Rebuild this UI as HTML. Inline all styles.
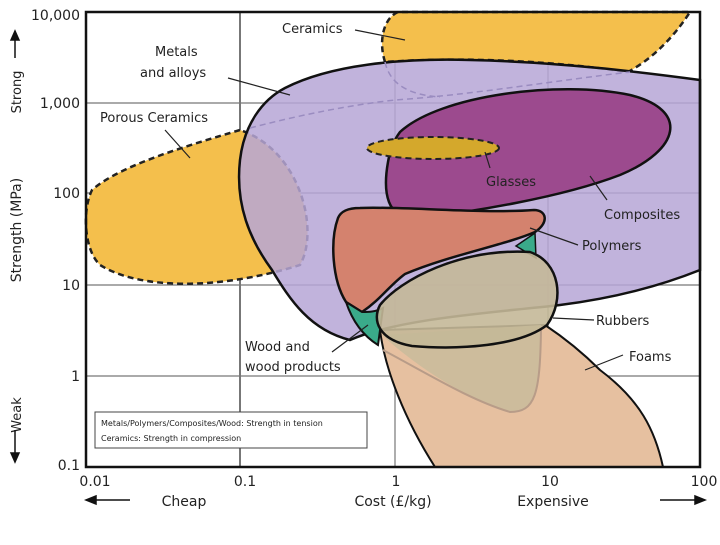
<!DOCTYPE html>
<html><head><meta charset="utf-8"><style>
body{margin:0;background:#fff;width:720px;height:540px;overflow:hidden}
text{font-family:"DejaVu Sans","Liberation Sans",sans-serif;fill:#222}
</style></head><body>
<svg width="720" height="540" viewBox="0 0 720 540">
<rect width="720" height="540" fill="#fff"/>
<g stroke="#777" stroke-width="1.2">
<line x1="86" y1="103" x2="700" y2="103"/><line x1="86" y1="193" x2="700" y2="193"/>
<line x1="86" y1="285" x2="700" y2="285"/><line x1="86" y1="376" x2="700" y2="376"/>
<line x1="240" y1="12" x2="240" y2="467" stroke-width="2"/><line x1="395" y1="12" x2="395" y2="467"/><line x1="548" y1="12" x2="548" y2="467"/>
</g>
<path d="M385,62 C378,40 384,18 398,12 L690,12 C672,40 650,60 628,72 C560,62 470,56 385,62 Z" fill="#f4bf4c" stroke="#222" stroke-width="2.5" stroke-dasharray="6,4"/>
<path d="M240,130 C190,145 120,165 92,190 C82,210 84,250 100,265 C140,290 220,290 300,265 C320,230 300,150 240,130 Z" fill="#f4bf4c" stroke="#222" stroke-width="2.5" stroke-dasharray="6,4"/>
<path d="M285,88 C330,65 400,58 470,60 C560,62 640,72 700,80 L700,270 C650,290 600,300 560,305 C500,312 400,318 350,340 C310,330 290,300 272,270 C250,240 235,205 240,160 C244,125 262,100 285,88 Z" fill="#b6a6d6" fill-opacity="0.85" stroke="#111" stroke-width="2.5"/>
<path d="M250,128 C300,115 350,105 395,100 C470,95 560,80 630,72" fill="none" stroke="#9a8cc0" stroke-width="1.5" stroke-dasharray="6,4"/>
<path d="M385,62 C390,85 410,95 440,97" fill="none" stroke="#9a8cc0" stroke-width="1.5" stroke-dasharray="6,4"/>
<path d="M400,132 C440,95 560,80 630,95 C690,110 680,150 620,175 C560,198 470,212 420,218 C385,222 383,190 388,162 C390,150 394,140 400,132 Z" fill="#9c4a8e" stroke="#111" stroke-width="2.5"/>
<ellipse cx="433" cy="148" rx="66" ry="11" fill="#d4a82c" stroke="#222" stroke-width="2" stroke-dasharray="6,4"/>
<path d="M380,330 C385,370 405,420 435,467 L663,467 C655,430 640,400 600,370 C580,350 560,335 545,325 Z" fill="#e6c0a0" stroke="#111" stroke-width="2"/>
<path d="M382,335 C420,370 470,400 510,412 C535,412 540,395 541,325 Z" fill="#cdbc9c"/>
<path d="M383,350 C430,375 470,400 510,412 C535,412 540,395 541,330" fill="none" stroke="#b89c88" stroke-width="2"/>
<path d="M338,218 C330,240 332,280 346,302 L362,312 C380,300 390,285 405,274 C450,255 505,245 535,232 C550,222 546,210 534,210 C480,214 400,206 360,208 C348,208 341,211 338,218 Z" fill="#d4826e" stroke="#111" stroke-width="2.5"/>
<path d="M346,302 C352,320 362,335 378,345 L383,308 C376,312 368,312 362,312 Z" fill="#3aaa8a" stroke="#111" stroke-width="2"/>
<path d="M516,246 L535,233 L536,258 Z" fill="#3aaa8a" stroke="#111" stroke-width="1.5"/>
<path d="M380,305 C400,280 460,248 530,252 C560,262 565,300 547,325 C520,346 460,350 412,346 C378,340 372,320 380,305 Z" fill="#c4b898" fill-opacity="0.9" stroke="#111" stroke-width="2.5"/>
<rect x="86" y="12" width="614" height="455" fill="none" stroke="#111" stroke-width="2.5"/>
<rect x="95" y="412" width="272" height="36" fill="#fff" stroke="#444"/>
<text x="101" y="426" font-size="8">Metals/Polymers/Composites/Wood: Strength in tension</text>
<text x="101" y="441" font-size="8">Ceramics: Strength in compression</text>
<g stroke="#222" stroke-width="1.2">
<line x1="355" y1="30" x2="405" y2="40"/><line x1="228" y1="78" x2="290" y2="95"/>
<line x1="165" y1="130" x2="190" y2="158"/><line x1="490" y1="168" x2="485" y2="152"/>
<line x1="607" y1="200" x2="590" y2="176"/><line x1="578" y1="245" x2="530" y2="228"/>
<line x1="553" y1="318" x2="594" y2="320"/>
<line x1="332" y1="352" x2="368" y2="325"/><line x1="585" y1="370" x2="623" y2="355"/>
</g>
<g font-size="13">
<text x="282" y="33">Ceramics</text>
<text x="155" y="56">Metals</text><text x="140" y="77">and alloys</text>
<text x="100" y="122">Porous Ceramics</text>
<text x="486" y="186" fill="#3a1a40">Glasses</text>
<text x="604" y="219">Composites</text>
<text x="582" y="250">Polymers</text>
<text x="596" y="325">Rubbers</text>
<text x="629" y="361">Foams</text>
<text x="245" y="351">Wood and</text><text x="245" y="371">wood products</text>
</g>
<g font-size="14" text-anchor="end">
<text x="80" y="20">10,000</text><text x="80" y="108">1,000</text><text x="80" y="198">100</text>
<text x="80" y="290">10</text><text x="80" y="381">1</text><text x="80" y="470">0.1</text>
</g>
<g font-size="14" text-anchor="middle">
<text x="95" y="486">0.01</text><text x="245" y="486">0.1</text><text x="396" y="486">1</text>
<text x="550" y="486">10</text><text x="704" y="486">100</text>
<text x="184" y="506">Cheap</text><text x="393" y="506">Cost (£/kg)</text><text x="553" y="506">Expensive</text>
</g>
<text transform="translate(21,230) rotate(-90)" font-size="14" text-anchor="middle">Strength (MPa)</text>
<text transform="translate(21,92) rotate(-90)" font-size="13" text-anchor="middle">Strong</text>
<text transform="translate(21,415) rotate(-90)" font-size="13" text-anchor="middle">Weak</text>
<g stroke="#111" stroke-width="1.5" fill="#111">
<line x1="15" y1="58" x2="15" y2="35"/><path d="M11,40 L15,31 L19,40 Z"/>
<line x1="15" y1="430" x2="15" y2="458"/><path d="M11,453 L15,462 L19,453 Z"/>
<line x1="92" y1="500" x2="130" y2="500"/><path d="M96,496 L86,500 L96,504 Z"/>
<line x1="660" y1="500" x2="700" y2="500"/><path d="M695,496 L705,500 L695,504 Z"/>
</g>
</svg>
</body></html>
